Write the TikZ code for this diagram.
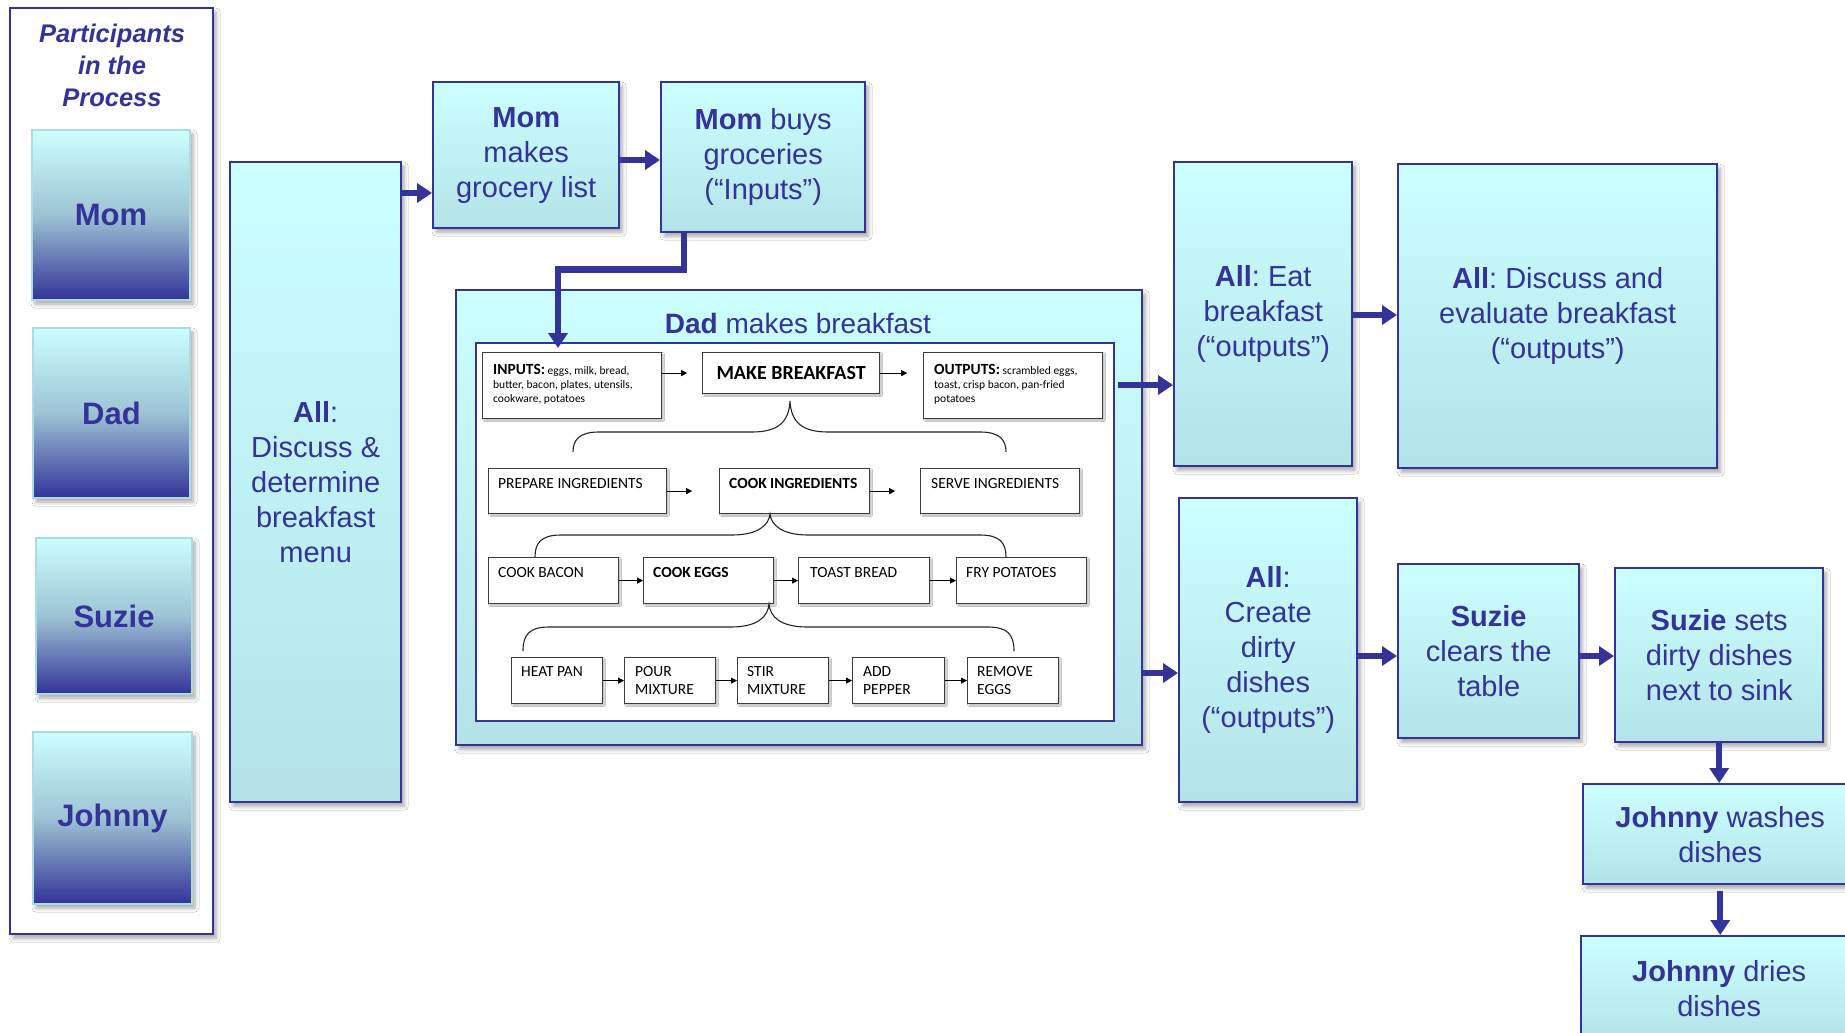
\documentclass[tikz,border=0pt]{standalone}
\usepackage{fontspec}
\setmainfont{Liberation Sans}
\newfontfamily\calfont{Carlito}
\usetikzlibrary{arrows.meta,shadows.blur}

\definecolor{navy}{HTML}{333399}
\definecolor{cyantop}{HTML}{CCFFFF}
\definecolor{cyanbot}{HTML}{B3E3E8}
\definecolor{personmid}{HTML}{9DC3D4}
\definecolor{personedge}{HTML}{A9DDE3}
\definecolor{boxline}{HTML}{3C3C3C}

% curly brace joining a step to its sub-steps:
% apex x, apex y, bar y, left x, right x, end y
\newcommand\stepbrace[6]{%
  \draw[bracepen] (#4,#6) .. controls (#4,#3+8) and (#4+6,#3) .. (#4+26,#3)
    -- (#1-38,#3) .. controls (#1-12,#3) and (#1-1,#3-10) .. (#1,#2)
    .. controls (#1+1,#3-10) and (#1+12,#3) .. (#1+38,#3)
    -- (#5-26,#3) .. controls (#5-6,#3) and (#5,#3+8) .. (#5,#6);}

\begin{document}
\begin{tikzpicture}[x=1pt, y=-1pt,
  softshadow/.style={blur shadow={shadow xshift=3pt, shadow yshift=-4pt,
      shadow blur radius=4pt, shadow opacity=35}},
  column/.style={draw=navy, line width=2.4pt, fill=white, softshadow,
      anchor=north west, inner sep=0pt},
  person/.style={draw=personedge, line width=2pt, top color=cyantop,
      bottom color=navy, middle color=personmid, softshadow,
      anchor=north west, inner sep=0pt, text=navy,
      font=\fontsize{31}{36}\selectfont\bfseries},
  bigbox/.style={draw=navy, line width=2.4pt, top color=cyantop,
      bottom color=cyanbot, softshadow, anchor=north west, inner sep=0pt,
      text=navy, align=center, font=\fontsize{29}{35}\selectfont},
  task/.style={draw=boxline, line width=1.2pt, fill=white, anchor=north west,
      inner sep=0pt, blur shadow={shadow xshift=1.5pt, shadow yshift=-1.5pt,
      shadow blur radius=1.5pt, shadow opacity=30}},
  tasktext/.style={anchor=north west, inner sep=0pt, align=left,
      font=\calfont\fontsize{15.5}{18}\selectfont},
  thinarrow/.style={draw=black, line width=1pt, -{Triangle[length=6pt,width=6pt]}},
  bracepen/.style={draw=black!85, line width=1.1pt},
  bigarrow/.style={draw=navy, line width=6.5pt, line join=miter,
      -{Triangle[length=15pt,width=19pt]}}
]
\useasboundingbox (0,0) rectangle (1845,1033);
\fill[white] (0,0) rectangle (1845,1033);
\clip (0,0) rectangle (1845,1033);

% participants column
\node[column, minimum width=203, minimum height=926] (partframe) at (9,7) {};
\node[align=center, text=navy, inner sep=0pt,
      font=\fontsize{25.5}{32}\selectfont\bfseries\itshape] (parttitle) at (112,65)
      {Participants\\in the\\Process};
\node[person, minimum width=158, minimum height=170] (pmom) at (31,129) {Mom};
\node[person, minimum width=157, minimum height=170] (pdad) at (32,327) {Dad};
\node[person, minimum width=156, minimum height=156] (psuzie) at (35,537) {Suzie};
\node[person, minimum width=159, minimum height=172] (pjohnny) at (32,731) {Johnny};

% process steps
\node[bigbox, minimum width=171, minimum height=640] (allmenu) at (229,161)
  {\textbf{All}:\\Discuss \&\\determine\\breakfast\\menu};
\node[bigbox, minimum width=186, minimum height=146] (momlist) at (432,81)
  {\textbf{Mom}\\makes\\grocery list};
\node[bigbox, minimum width=204, minimum height=150] (mombuy) at (660,81)
  {\textbf{Mom} buys\\groceries\\(“Inputs”)};
\node[bigbox, minimum width=178, minimum height=304] (eat) at (1173,161)
  {\textbf{All}:\ Eat\\breakfast\\(“outputs”)};
\node[bigbox, minimum width=319, minimum height=304] (evaluate) at (1397,163)
  {\textbf{All}:\ Discuss and\\evaluate breakfast\\(“outputs”)};
\node[bigbox, minimum width=178, minimum height=304] (create) at (1178,497)
  {\textbf{All}:\\Create\\dirty\\dishes\\(“outputs”)};
\node[bigbox, minimum width=181, minimum height=174] (clear) at (1397,563)
  {\textbf{Suzie}\\clears the\\table};
\node[bigbox, minimum width=208, minimum height=174] (sets) at (1614,567)
  {\textbf{Suzie} sets\\dirty dishes\\next to sink};
\node[bigbox, minimum width=274, minimum height=100] (wash) at (1582,783)
  {\textbf{Johnny} washes\\dishes};
\node[bigbox, minimum width=276, minimum height=105] (dry) at (1580,935)
  {\textbf{Johnny} dries\\dishes};

% Dad's breakfast process
\node[bigbox, minimum width=686, minimum height=455] (dadbox) at (455,289) {};
\node[text=navy, inner sep=0pt, font=\fontsize{28}{34}\selectfont] (dadtitle)
  at (798,323) {\textbf{Dad} makes breakfast};
\node[draw=navy, line width=2pt, fill=white, anchor=north west, inner sep=0pt,
      minimum width=638, minimum height=378] (inner) at (475,342) {};

% top level
\node[task, minimum width=179, minimum height=66] (inputs) at (482,352) {};
\node[tasktext, font=\calfont\fontsize{11.5}{14}\selectfont] (inputsT)
  at ([shift={(11,12)}]inputs.north west)
  {{\fontsize{15.5}{14}\selectfont\bfseries INPUTS:} eggs, milk, bread,\\
   butter, bacon, plates, utensils,\\cookware, potatoes};
\node[task, minimum width=177, minimum height=41,
      font=\calfont\bfseries\fontsize{20}{22}\selectfont] (make) at (702,352)
  {MAKE BREAKFAST};
\node[task, minimum width=179, minimum height=66] (outputs) at (923,352) {};
\node[tasktext, font=\calfont\fontsize{11.5}{14}\selectfont] (outputsT)
  at ([shift={(11,12)}]outputs.north west)
  {{\fontsize{15.5}{14}\selectfont\bfseries OUTPUTS:} scrambled eggs,\\
   toast, crisp bacon, pan-fried\\potatoes};

% second level
\node[task, minimum width=178, minimum height=45] (prep) at (488,468) {};
\node[tasktext] (prepT) at ([shift={(10,10)}]prep.north west) {PREPARE INGREDIENTS};
\node[task, minimum width=150, minimum height=45] (cook) at (719,468) {};
\node[tasktext, font=\calfont\bfseries\fontsize{15.5}{18}\selectfont] (cookT)
  at ([shift={(10,10)}]cook.north west) {COOK INGREDIENTS};
\node[task, minimum width=159, minimum height=45] (serve) at (920,468) {};
\node[tasktext] (serveT) at ([shift={(11,10)}]serve.north west) {SERVE INGREDIENTS};

% third level
\node[task, minimum width=130, minimum height=46] (bacon) at (488,557) {};
\node[tasktext] (baconT) at ([shift={(10,10)}]bacon.north west) {COOK BACON};
\node[task, minimum width=130, minimum height=46] (eggs) at (643,557) {};
\node[tasktext, font=\calfont\bfseries\fontsize{15.5}{18}\selectfont] (eggsT)
  at ([shift={(10,10)}]eggs.north west) {COOK EGGS};
\node[task, minimum width=131, minimum height=46] (toast) at (798,557) {};
\node[tasktext] (toastT) at ([shift={(12,10)}]toast.north west) {TOAST BREAD};
\node[task, minimum width=130, minimum height=46] (fry) at (956,557) {};
\node[tasktext] (fryT) at ([shift={(10,10)}]fry.north west) {FRY POTATOES};

% fourth level
\node[task, minimum width=91, minimum height=46] (heat) at (511,657) {};
\node[tasktext] (heatT) at ([shift={(10,9)}]heat.north west) {HEAT PAN};
\node[task, minimum width=91, minimum height=46] (pour) at (624,657) {};
\node[tasktext] (pourT) at ([shift={(11,9)}]pour.north west) {POUR\\MIXTURE};
\node[task, minimum width=91, minimum height=46] (stir) at (737,657) {};
\node[tasktext] (stirT) at ([shift={(10,9)}]stir.north west) {STIR\\MIXTURE};
\node[task, minimum width=92, minimum height=46] (pepper) at (852,657) {};
\node[tasktext] (pepperT) at ([shift={(11,9)}]pepper.north west) {ADD\\PEPPER};
\node[task, minimum width=91, minimum height=46] (remove) at (967,657) {};
\node[tasktext] (removeT) at ([shift={(10,9)}]remove.north west) {REMOVE\\EGGS};

% small flow arrows
\draw[thinarrow] (inputs.east |- make.west) -- ++(25,0);
\draw[thinarrow] (make.east) -- ++(27,0);
\draw[thinarrow] (prep.east) -- ++(25,0);
\draw[thinarrow] (cook.east) -- ++(25,0);
\draw[thinarrow] (bacon.east) -- (eggs.west);
\draw[thinarrow] (eggs.east) -- (toast.west);
\draw[thinarrow] (toast.east) -- (fry.west);
\draw[thinarrow] (heat.east) -- (pour.west);
\draw[thinarrow] (pour.east) -- (stir.west);
\draw[thinarrow] (stir.east) -- (pepper.west);
\draw[thinarrow] (pepper.east) -- (remove.west);

% braces
\stepbrace{790}{401}{432}{573}{1006}{452}
\stepbrace{770}{514}{535}{535}{1006}{557}
\stepbrace{769}{604}{627}{523}{1014}{651}

% main flow arrows
\coordinate (feedIn) at (558,348);
\coordinate (eatFeed) at (1118,385);
\draw[bigarrow] (allmenu.east |- 0,193) -- (momlist.west |- 0,193);
\draw[bigarrow] (momlist.east |- 0,160) -- (mombuy.west |- 0,160);
\draw[bigarrow] ([xshift=24pt]mombuy.south west) -- ++(0,36) -| (feedIn);
\draw[bigarrow] (eatFeed) -- (eat.west |- eatFeed);
\draw[bigarrow] (dadbox.east |- 0,673) -- (create.west |- 0,673);
\draw[bigarrow] (eat.east |- 0,315) -- (evaluate.west |- 0,315);
\draw[bigarrow] (create.east |- 0,656) -- (clear.west |- 0,656);
\draw[bigarrow] (clear.east |- 0,656) -- (sets.west |- 0,656);
\draw[bigarrow] (sets.south) -- (sets.south |- wash.north);
\draw[bigarrow] ([yshift=-6pt]wash.south) -- (wash.south |- dry.north);
\end{tikzpicture}
\end{document}
